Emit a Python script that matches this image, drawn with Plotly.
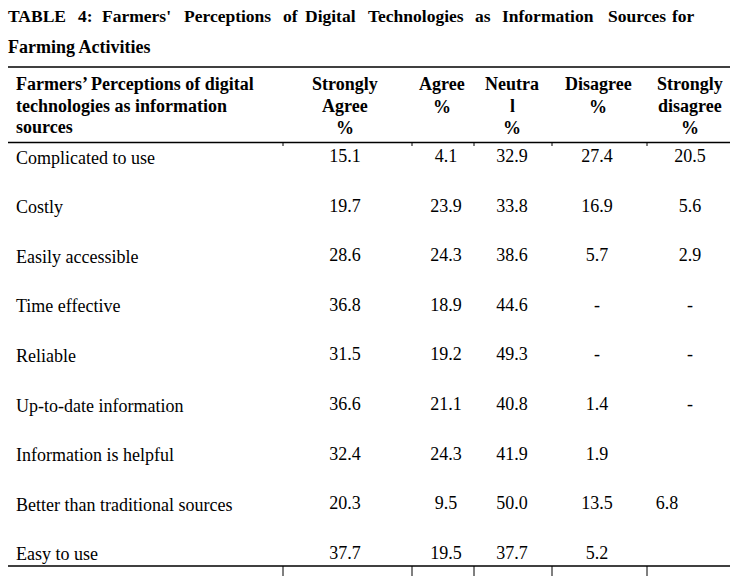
import plotly.graph_objects as go

title_line1 = "TABLE 4: Farmers' Perceptions of Digital Technologies as Information Sources for"
title_line2 = "Farming Activities"

header_first = "Farmers’ Perceptions of digital<br>technologies as information<br>sources"
col_headers = [
    ["Strongly", "Agree", "%"],
    ["Agree", "%"],
    ["Neutra", "l", "%"],
    ["Disagree", "%"],
    ["Strongly", "disagree", "%"],
]

perceptions = [
    "Complicated to use",
    "Costly",
    "Easily accessible",
    "Time effective",
    "Reliable",
    "Up-to-date information",
    "Information is helpful",
    "Better than traditional sources",
    "Easy to use",
]
strongly_agree = ["15.1", "19.7", "28.6", "36.8", "31.5", "36.6", "32.4", "20.3", "37.7"]
agree = ["4.1", "23.9", "24.3", "18.9", "19.2", "21.1", "24.3", "9.5", "19.5"]
neutral = ["32.9", "33.8", "38.6", "44.6", "49.3", "40.8", "41.9", "50.0", "37.7"]
disagree = ["27.4", "16.9", "5.7", "-", "-", "1.4", "1.9", "13.5", "5.2"]
strongly_disagree = ["20.5", "5.6", "2.9", "-", "-", "-", "", "6.8", ""]

# layout in page pixels (axes span the whole 730x576 page)
W, H = 730, 576
FONT = "Liberation Serif"
col_x = [345, 446, 512, 597, 690]
row_y0, row_step = 157.5, 49.6
label_x = 14  # annotation padding puts the glyphs at ~16
# the 6.8 in the source sits left of its column
nudge = {(7, 4): -23}

fig = go.Figure()

columns = [strongly_agree, agree, neutral, disagree, strongly_disagree]
row_y = [row_y0 + i * row_step for i in range(len(perceptions))]
for c, values in enumerate(columns):
    xs = [col_x[c] + nudge.get((r, c), 0) for r in range(len(values))]
    fig.add_trace(go.Scatter(
        x=xs, y=row_y, text=values, mode="text",
        textposition="middle center",
        textfont=dict(family=FONT, size=18, color="black"),
        hoverinfo="skip", showlegend=False,
    ))

for r, label in enumerate(perceptions):
    fig.add_annotation(x=label_x, y=row_y[r], text=label, showarrow=False,
                       xanchor="left", yanchor="middle",
                       font=dict(family=FONT, size=18, color="black"))

# title, justified like the source: place each word of line 1
word_x = [6, 76, 100, 182, 281, 303, 366, 473, 500, 606, 670]
for wx, word in zip(word_x, title_line1.split(" ")):
    fig.add_annotation(x=wx, y=16, text="<b>%s</b>" % word, showarrow=False,
                       xanchor="left", yanchor="middle",
                       font=dict(family=FONT, size=17.5, color="black"))
fig.add_annotation(x=6, y=47, text="<b>%s</b>" % title_line2, showarrow=False,
                   xanchor="left", yanchor="middle",
                   font=dict(family=FONT, size=18, color="black"))

# header
for i, line in enumerate(header_first.split("<br>")):
    fig.add_annotation(x=label_x, y=84 + i * 21.5, text="<b>%s</b>" % line,
                       showarrow=False, xanchor="left", yanchor="middle",
                       font=dict(family=FONT, size=18, color="black"))
head_y = {3: [84, 105.5, 128], 2: [84, 106.5]}
for c, lines in enumerate(col_headers):
    for i, line in enumerate(lines):
        fig.add_annotation(x=col_x[c] - (4 if c == 1 else 0) + (1 if c == 3 else 0),
                           y=head_y[len(lines)][i], text="<b>%s</b>" % line,
                           showarrow=False, xanchor="center", yanchor="middle",
                           font=dict(family=FONT, size=18, color="black"))

# rules
for y in [67, 142.5, 566]:
    fig.add_shape(type="line", x0=8, x1=W, y0=y, y1=y,
                  line=dict(color="black", width=1.6))
for tx in [283, 412, 474, 552, 647]:
    fig.add_shape(type="line", x0=tx, x1=tx, y0=142.5, y1=146,
                  line=dict(color="black", width=1))
    fig.add_shape(type="line", x0=tx, x1=tx, y0=566, y1=576,
                  line=dict(color="black", width=1))

fig.update_xaxes(range=[0, W], visible=False, fixedrange=True)
fig.update_yaxes(range=[H, 0], visible=False, fixedrange=True)
fig.update_layout(
    width=W, height=H,
    margin=dict(l=0, r=0, t=0, b=0),
    paper_bgcolor="white", plot_bgcolor="white",
)

# drop the browser's default 8px body margin so the figure fills the window
fig.write_html("out.html", config={"displayModeBar": False},
               post_script="document.body.style.margin='0';")
